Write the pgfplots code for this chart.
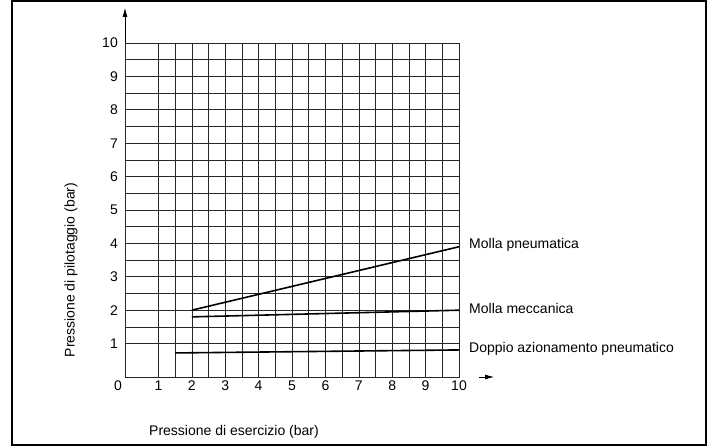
\documentclass[border=0pt]{standalone}
\usepackage{fontspec}
\setmainfont{Liberation Sans}
\usepackage{pgfplots}
\pgfplotsset{compat=1.18}
\usetikzlibrary{arrows.meta}

\begin{document}
\begin{tikzpicture}[x=1pt,y=1pt]
  \useasboundingbox (0,0) rectangle (712,446);
  \fontsize{14}{16}\selectfont
  \begin{axis}[
    at={(125pt,69pt)}, anchor=south west,
    scale only axis, width=334pt, height=334pt,
    xmin=0, xmax=10, ymin=0, ymax=10,
    xtick={1,...,10}, ytick={1,...,10},
    minor tick num=1,
    major tick length=0pt, minor tick length=0pt,
    grid=both,
    major grid style={black!85, line width=0.6pt},
    minor grid style={black!85, line width=0.6pt},
    axis line style={black!85, line width=0.6pt},
    tick label style={font=\fontsize{14}{16}\selectfont, inner sep=0pt},
    xticklabel style={yshift=-4pt},
    yticklabel style={xshift=-7pt},
    /pgf/number format/assume math mode=true,
    clip=false,
  ]
    % pneumatic spring
    \addplot[black, line width=1.6pt] coordinates {(2,2.0) (10,3.9)};
    % mechanical spring
    \addplot[black, line width=1.6pt] coordinates {(2,1.8) (10,2.0)};
    % double acting
    \addplot[black, line width=1.6pt] coordinates {(1.5,0.72) (10,0.81)};

    \node[anchor=west, inner sep=0pt] at (axis cs:10.3,3.95) {Molla pneumatica};
    \node[anchor=west, inner sep=0pt] at (axis cs:10.3,2.04) {Molla meccanica};
    \node[anchor=west, inner sep=0pt] at (axis cs:10.3,0.84) {Doppio azionamento pneumatico};
    \node at (axis cs:-0.21,-0.27) {0};

    \draw[black, line width=0.8pt, -{Latex[length=9pt,width=5pt]}] (axis cs:0,10) -- (axis cs:0,11.05);
    \draw[black, line width=0.8pt, -{Latex[length=9pt,width=5pt]}] (axis cs:10.6,0) -- (axis cs:11.05,0);
  \end{axis}
  \node[rotate=90] at (71,176) {Pressione di pilotaggio (bar)};
  \node at (234,14) {Pressione di esercizio (bar)};
  \draw[black, line width=1.4pt] (12,1) rectangle (706,445);
\end{tikzpicture}
\end{document}
